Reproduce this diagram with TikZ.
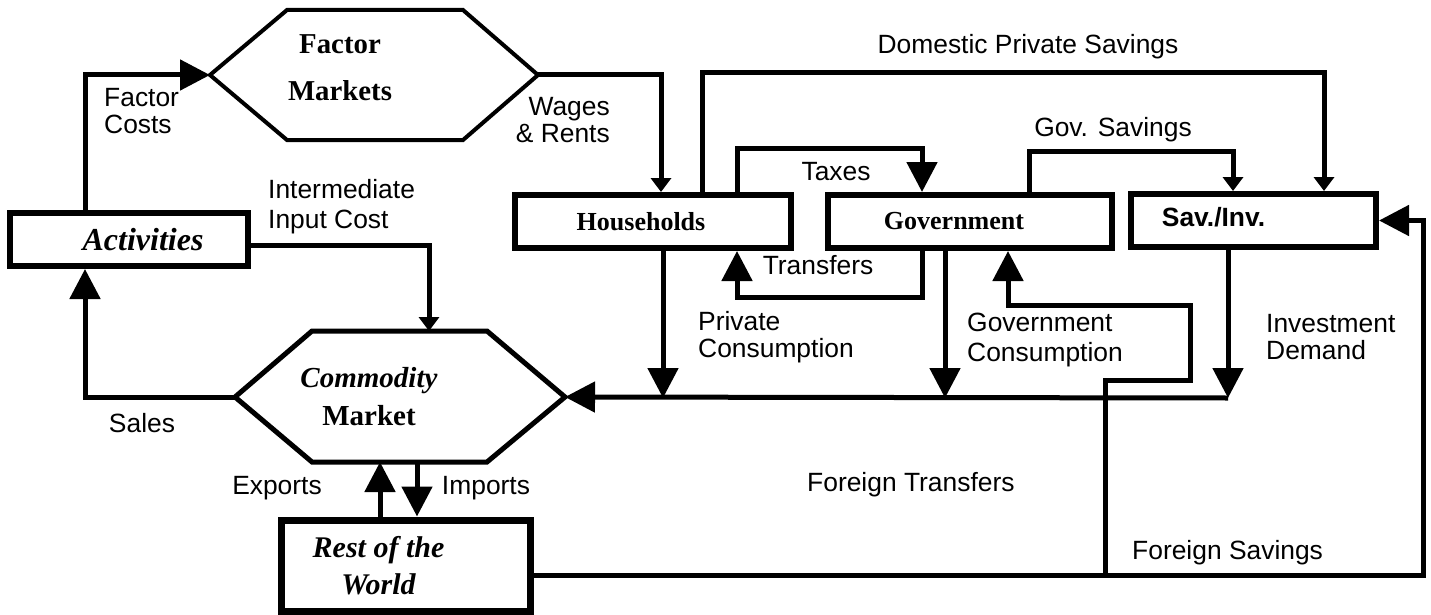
\documentclass[tikz,border=0pt]{standalone}
\usepackage{fontspec}
\setmainfont{Liberation Serif}
\setsansfont{Liberation Sans}
\usetikzlibrary{arrows.meta,calc}
\tikzset{
	box/.style={draw,line width=6pt,inner sep=0pt},
	boxtext/.style={font=\bfseries\fontsize{26}{30}\selectfont,align=center},
	hexa/.style={draw,line width=4pt,line join=miter},
	lbl/.style={font=\sffamily\fontsize{26.4}{27}\selectfont,inner sep=0pt,align=left},
	flow/.style={line width=5pt},
	big/.style={flow,-{Triangle[length=30pt,width=30pt]}},
	small/.style={flow,-{Triangle[length=14pt,width=20pt]}},
}
\begin{document}
\begin{tikzpicture}[x=1pt,y=-1pt]
		\useasboundingbox (0,0) rectangle (1431,615);
		% markets
		\draw[hexa] (210,75) coordinate (fmW) -- (287,10) -- (463,10) -- (538,75) coordinate (fmE) -- (463,140) -- (287,140) -- cycle;
		\node[boxtext,font=\bfseries\fontsize{28.8}{47}\selectfont] (fm) at (340,68) {Factor\\Markets};
		\draw[hexa,line width=5pt] (235,397) coordinate (cmW) -- (312,331) coordinate (cmNW) -- (487,331) -- (565,397) coordinate (cmE) -- (487,462) -- (312,462) coordinate (cmSW) -- cycle;
		\node[boxtext,font=\bfseries\fontsize{29}{38}\selectfont] (cm) at (369,397) {\textit{Commodity}\\Market};
		% institutions
		\node[box,minimum width=238pt,minimum height=53pt,label={[boxtext,font=\bfseries\itshape\fontsize{32}{36}\selectfont,xshift=14pt]center:Activities}] (act) at (129,239.5) {};
		\node[box,minimum width=276pt,minimum height=53pt,label={[boxtext,xshift=-12pt]center:Households}] (hh) at (653,221.5) {};
		\node[box,minimum width=284pt,minimum height=53pt,label={[boxtext,xshift=-16pt]center:Government}] (gov) at (970,221.5) {};
		\node[box,minimum width=245pt,minimum height=53pt,label={[boxtext,font=\sffamily\bfseries\fontsize{26.4}{30}\selectfont,xshift=-40pt,yshift=3pt]center:Sav./Inv.}] (si) at (1253.5,220.5) {};
		\node[box,line width=7pt,minimum width=249pt,minimum height=91pt,label={[boxtext,font=\bfseries\itshape\fontsize{30}{37}\selectfont,xshift=-27pt]center:{Rest of the\\World}}] (row) at (405.5,565.5) {};
		% junctions
		\coordinate (ii) at (429,331);
		\coordinate (pc) at (663,398);
		\coordinate (gc) at (945,398);
		\coordinate (id) at (1228,398);
		\coordinate (ex) at (380,462);
		\coordinate (im) at (417,462);
		\coordinate (fs) at (1423,575);
		\coordinate (ft) at (1105,575);
		% flows
		\draw[big] ([xshift=-44pt]act.north) |- (fmW);
		\draw[small] (fmE) -| ([xshift=8pt]hh.north);
		\draw[small] ([yshift=-5.5pt]act.east) -| (ii);
		\draw[big] (cmW) -| ([xshift=-44pt]act.south);
		\draw[small] ([xshift=49pt]hh.north) -- ++(0,-119) -| ([xshift=70.5pt]si.north);
		\draw[big] ([xshift=84pt]hh.north) -- ++(0,-44) -| ([xshift=-48pt]gov.north);
		\draw[big] ([xshift=-48pt]gov.south) -- ++(0,46) -| ([xshift=84pt]hh.south);
		\draw[small] ([xshift=59pt]gov.north) -- ++(0,-41) -| ([xshift=-20.5pt]si.north);
		\draw[big] (hh.south -| pc) -- (pc);
		\draw[big] (gov.south -| gc) -- (gc);
		\draw[big] (si.south -| id) -- (id);
		\draw[big] (id) -- (cmE);
		\draw[big] (row.north -| ex) -- (ex);
		\draw[big] (im) -- (row.north -| im);
		\draw[big] (row.east |- fs) -- (fs) |- (si.east);
		\draw[big] (ft) -- ++(0,-195) -- ++(85,0) -- ++(0,-75) -| ([xshift=38pt]gov.south);
		% labels
		\node[lbl,anchor=west] (lfc) at (104,111) {Factor\\Costs};
		\node[lbl,anchor=east,align=right] (lwr) at (610,120.5) {Wages\\\& Rents};
		\node[lbl,anchor=west] (lii) at (268,207) {Intermediate\\[3pt]Input Cost};
		\node[lbl] (ldps) at (1028,47) {Domestic Private Savings};
		\node[lbl] (ltax) at (836,172) {Taxes};
		\node[lbl] (lgs) at (1113,130) {Gov. Savings};
		\node[lbl] (ltr) at (818,265) {Transfers};
		\node[lbl,anchor=west] (lpc) at (698,337.5) {Private\\Consumption};
		\node[lbl,anchor=west] (lgc) at (967,340) {Government\\[3pt]Consumption};
		\node[lbl,anchor=west] (lid) at (1266,337.5) {Investment\\Demand};
		\node[lbl] (lsl) at (142,423) {Sales};
		\node[lbl] (lex) at (277,488) {Exports};
		\node[lbl] (lim) at (486,488) {Imports};
		\node[lbl,anchor=west] (lft) at (807,485) {Foreign Transfers};
		\node[lbl,anchor=west] (lfs) at (1132,553) {Foreign Savings};
	\end{tikzpicture}
\end{document}
